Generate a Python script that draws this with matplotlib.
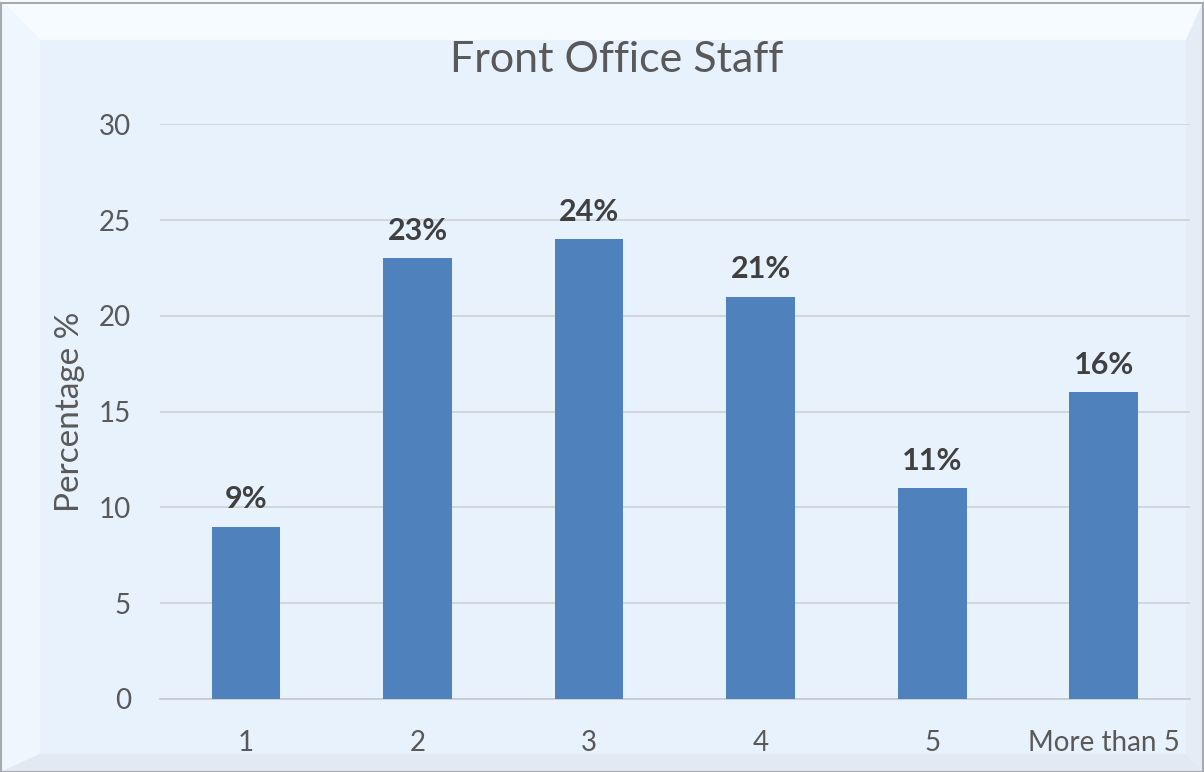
import matplotlib.pyplot as plt
from matplotlib.patches import Polygon, Rectangle

categories = ['1', '2', '3', '4', '5', 'More than 5']
values = [9, 23, 24, 21, 11, 16]
labels = ['9%', '23%', '24%', '21%', '11%', '16%']

plt.rcParams['font.family'] = ['Lato', 'DejaVu Sans']

fig = plt.figure(figsize=(12.04, 7.72), dpi=100, facecolor='#e8f2fc')

# soft bevel around the chart area
W, H = 1204, 772
def px(pts):
    return [(x / W, 1 - y / H) for x, y in pts]
bands = [
    ([(0, 0), (W, 0), (W - 18, 40), (40, 40)], '#f6fbff'),
    ([(0, 0), (40, 40), (40, H - 18), (0, H)], '#eef6fe'),
    ([(0, H), (40, H - 18), (W - 18, H - 18), (W, H)], '#e1eaf3'),
    ([(W, 0), (W, H), (W - 18, H - 18), (W - 18, 40)], '#e4edf6'),
]
for pts, col in bands:
    fig.patches.append(Polygon(px(pts), closed=True, transform=fig.transFigure,
                               facecolor=col, edgecolor='none', zorder=-2))
fig.patches.append(Rectangle((0.001, 0.0), 0.998, 0.996, transform=fig.transFigure,
                             facecolor='none', edgecolor='#a7abb0', linewidth=1.5, zorder=-1))

ax = fig.add_axes([0.133, 0.0946, 0.855, 0.7444])
ax.set_facecolor('none')

x = range(len(categories))
bars = ax.bar(x, values, width=0.4, color='#4f81bd', zorder=3)
for bar, lab in zip(bars, labels):
    ax.text(bar.get_x() + bar.get_width() / 2, bar.get_height() + 0.95, lab,
            ha='center', va='baseline', fontsize=22, fontweight='bold', color='#404040')

ax.set_xlim(-0.5, 5.5)
ax.set_ylim(0, 30)
ax.set_yticks(range(0, 31, 5))
ax.set_xticks(list(x))
ax.set_xticklabels(categories)
ax.grid(axis='y', color='#d0d4d8', linewidth=1.3, zorder=0)
for s in ['top', 'right', 'left']:
    ax.spines[s].set_visible(False)
ax.spines['bottom'].set_color('#c8ccd0')
ax.spines['bottom'].set_linewidth(1.3)
ax.tick_params(length=0, labelsize=20, colors='#595959')
ax.tick_params(axis='y', pad=21)
ax.tick_params(axis='x', pad=22)
ax.set_ylabel('Percentage %', fontsize=24, color='#595959', labelpad=10)
fig.text(0.512, 0.922, 'Front Office Staff', ha='center', va='center',
         fontsize=31, color='#595959')

fig.savefig('out.png', dpi=100, facecolor=fig.get_facecolor())
